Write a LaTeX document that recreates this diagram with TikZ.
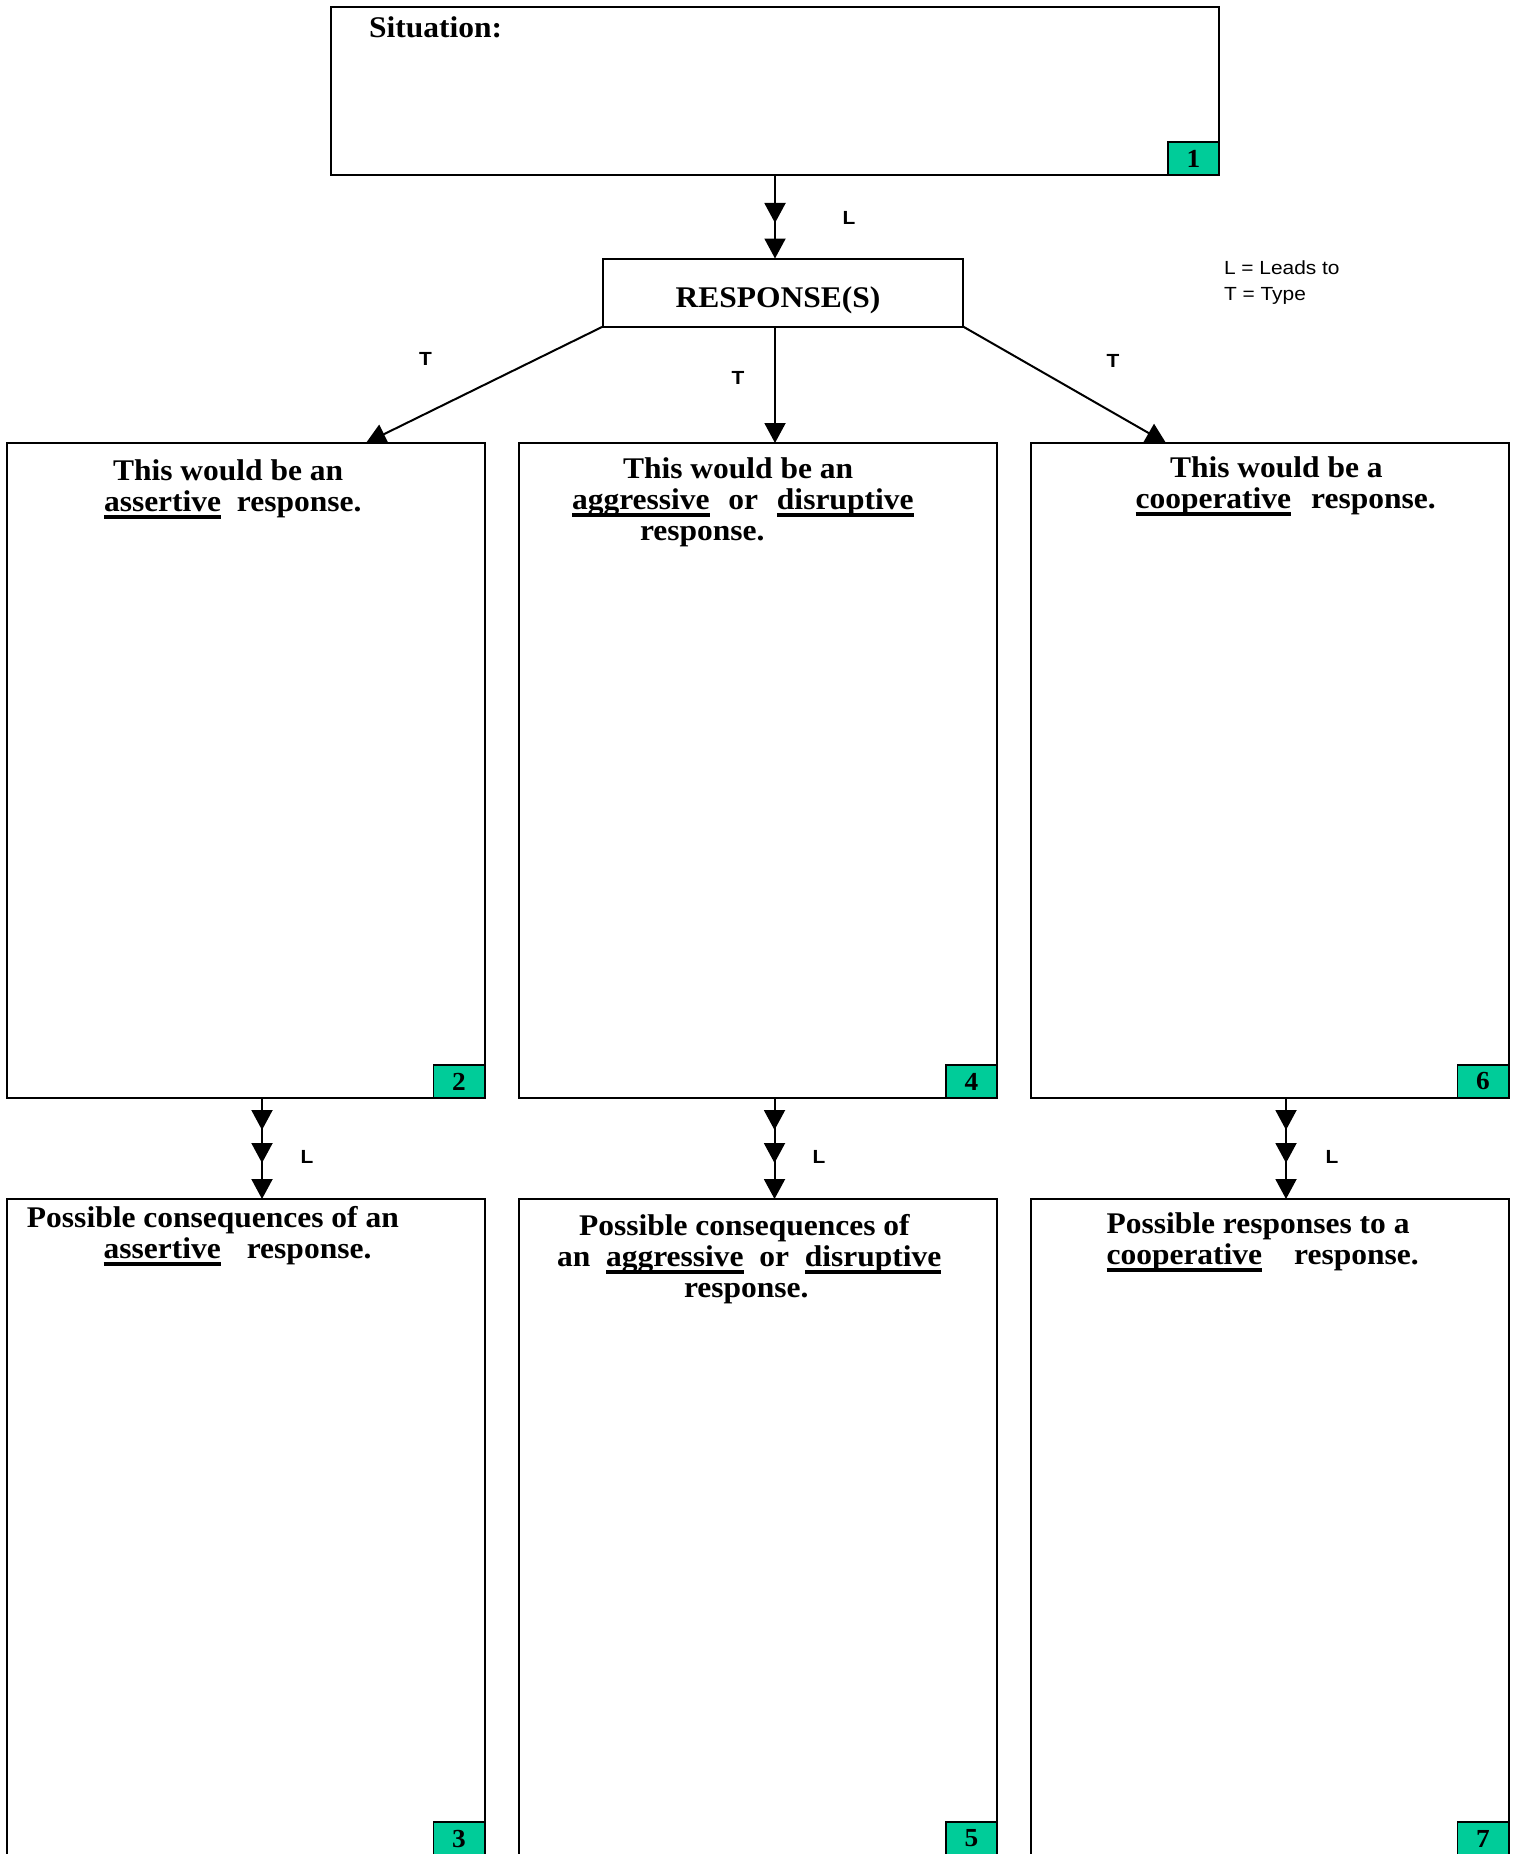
\documentclass[tikz,border=0pt]{standalone}
\usepackage{fontspec}
\setmainfont{Liberation Serif}[FakeStretch=1.05]
\setsansfont{Liberation Sans}[FakeStretch=1.1]
\usetikzlibrary{arrows.meta,decorations.markings}
\definecolor{numgreen}{RGB}{0,204,153}
\newcommand{\uword}[1]{\setbox0=\hbox{#1}\rlap{\rule[-7pt]{\wd0}{3.5pt}}\box0}
\begin{document}
\begin{tikzpicture}[x=1pt, y=-1pt,
		every node/.style={outer sep=0pt, inner sep=0pt},
		panel/.style={draw, line width=2pt, minimum width=478pt, minimum height=655pt},
		numbox/.style={draw, line width=1.5pt, fill=numgreen, minimum width=51pt, minimum height=33pt,
			anchor=south east, font=\bfseries\fontsize{26}{26}\selectfont},
		boxtext/.style={font=\bfseries\fontsize{30}{31}\selectfont, align=left, anchor=north west},
		tagtext/.style={font=\sffamily\bfseries\fontsize{19}{19}\selectfont},
		conn/.style={line width=2pt},
		headtip/.style={-{Triangle[length=20pt,width=21pt]}},
		twoheads/.style={postaction={decorate}, decoration={markings,
			mark=at position 48pt with {\arrow{Triangle[length=20pt,width=21pt]}}}},
		threeheads/.style={postaction={decorate}, decoration={markings,
			mark=at position 32pt with {\arrow{Triangle[length=20pt,width=21pt]}},
			mark=at position 65pt with {\arrow{Triangle[length=20pt,width=21pt]}}}},
		]
		\useasboundingbox (0,0) rectangle (1518,1854);
		\clip (0,0) rectangle (1518,1854);
		
		\node[draw, line width=2pt, minimum width=888pt, minimum height=168pt] (sit) at (775,91) {};
		\node[numbox] (n1) at (sit.south east) {1};
		\node[font=\bfseries\fontsize{30}{31}\selectfont, anchor=base west] (sittext) at (369,38) {Situation:};
		
		\node[draw, line width=2pt, minimum width=360pt, minimum height=68pt,
			font=\bfseries\fontsize{30}{31}\selectfont, text height=34pt, text depth=3.6pt] (resp) at (783,292.5) {RESPONSE(S)\hspace*{10pt}};
		\node[font=\sffamily\fontsize{19}{26}\selectfont, align=left, anchor=north west] (key) at (1224,261) {L = Leads to\\T = Type};
		
		\node[panel] (box2) at (245.5,770.5) {};
		\node[panel] (box4) at (758,770.5) {};
		\node[panel] (box6) at (1269.5,770.5) {};
		\node[panel, minimum height=656pt] (box3) at (245.5,1527) {};
		\node[panel, minimum height=656pt] (box5) at (758,1527) {};
		\node[panel, minimum height=656pt] (box7) at (1269.5,1527) {};
		
		\node[numbox] (n2) at (box2.south east) {2};
		\node[numbox] (n4) at (box4.south east) {4};
		\node[numbox] (n6) at (box6.south east) {6};
		\node[numbox] (n3) at (box3.south east) {3};
		\node[numbox] (n5) at (box5.south east) {5};
		\node[numbox] (n7) at (box7.south east) {7};
		
		\node[boxtext] (t2) at (104,459.7) {\hspace*{9pt}This would be an\\\uword{assertive}\ \ response.};
		\node[boxtext] (t4) at (572,457.7) {\hspace*{51pt}This would be an\\\uword{aggressive}\hspace{18.8pt}or\hspace{18.8pt}\uword{disruptive}\\\hspace*{68pt}response.};
		\node[boxtext] (t6) at (1135.5,456.7) {\hspace*{34.5pt}This would be a\\\uword{cooperative}\hspace{20pt}response.};
		\node[boxtext] (t3) at (27,1206.7) {Possible consequences of an\\\hspace*{76.6pt}\uword{assertive}\hspace{26pt}response.};
		\node[boxtext] (t5) at (557,1214.7) {\hspace*{22pt}Possible consequences of\\an\ \ \uword{aggressive}\ \ or\ \ \uword{disruptive}\\\hspace*{127pt}response.};
		\node[boxtext] (t7) at (1106.5,1212.7) {Possible responses to a\\\uword{cooperative}\hspace{32pt}response.};
		
		\draw[conn, headtip, twoheads] (sit.south) -- (sit.south |- resp.north);
		\node[tagtext] (l1) at (849,217.5) {L};
		
		\draw[conn, headtip] (resp.south west) -- ([xshift=359.5pt]box2.north west);
		\draw[conn, headtip] (resp.south -| sit.south) -- (sit.south |- box4.north);
		\draw[conn, headtip] (resp.south east) -- ([xshift=135.5pt]box6.north west);
		\node[tagtext] (tl) at (425.6,359.4) {T};
		\node[tagtext] (tm) at (738,377.5) {T};
		\node[tagtext] (tr) at (1113,360.5) {T};
		
		\draw[conn, headtip, threeheads] ([xshift=16.5pt]box2.south) -- ([xshift=16.5pt]box3.north);
		\draw[conn, headtip, threeheads] ([xshift=16.5pt]box4.south) -- ([xshift=16.5pt]box5.north);
		\draw[conn, headtip, threeheads] ([xshift=16.5pt]box6.south) -- ([xshift=16.5pt]box7.north);
		\node[tagtext] (l2) at (307,1157) {L};
		\node[tagtext] (l4) at (819,1157) {L};
		\node[tagtext] (l6) at (1332,1157) {L};
\end{tikzpicture}
\end{document}
